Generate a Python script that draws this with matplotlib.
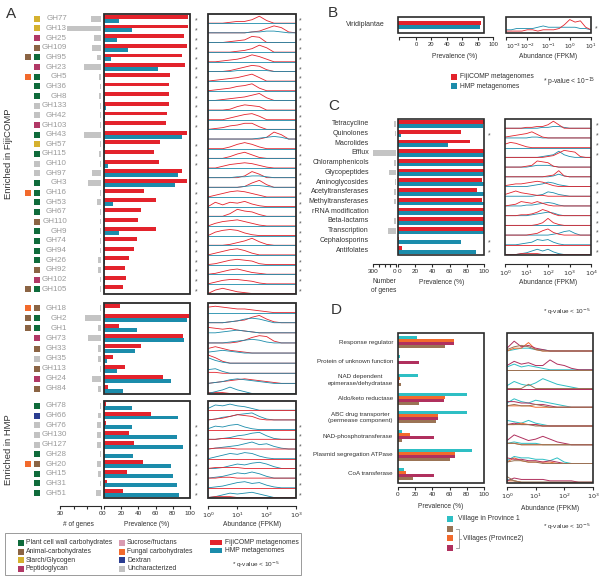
import numpy as np
import matplotlib
matplotlib.use('Agg')
import matplotlib.pyplot as plt
from matplotlib.patches import Rectangle
from matplotlib.ticker import NullLocator
from matplotlib.transforms import blended_transform_factory

plt.rcParams['font.family'] = ['Liberation Sans', 'DejaVu Sans']
plt.rcParams['axes.facecolor'] = 'none'

W, H = 600, 576
RED = '#e3232c'
BLUE = '#1b8cab'
FRAME = '#2b2b2b'
TXT = '#333333'
LABEL_GRAY = '#9a9a9a'
GENE_GRAY = '#c4c4c4'

CAT_COLORS = {
    'plant': '#0f6b3b', 'animal': '#8b6444', 'starch': '#d5b12f',
    'pepti': '#b13866', 'sucrose': '#d99bb1', 'fungal': '#f26a2c',
    'dextran': '#2a3d91', 'unchar': '#c2c2c2',
}
CAT_LABELS = [
    ('plant', 'Plant cell wall carbohydrates'), ('animal', 'Animal-carbohydrates'),
    ('starch', 'Starch/Glycogen'), ('pepti', 'Peptidoglycan'),
    ('sucrose', 'Sucrose/fructans'), ('fungal', 'Fungal carbohydrates'),
    ('dextran', 'Dextran'), ('unchar', 'Uncharacterized'),
]

# ---------------- panel A data ----------------
A1_NAMES = ['GH77', 'GH13', 'GH25', 'GH109', 'GH95', 'GH23', 'GH5', 'GH36', 'GH8',
            'GH133', 'GH42', 'GH103', 'GH43', 'GH57', 'GH115', 'GH10', 'GH97', 'GH3',
            'GH16', 'GH53', 'GH67', 'GH110', 'GH9', 'GH74', 'GH94', 'GH26', 'GH92',
            'GH102', 'GH105']
A1_CATS = [('starch',), ('starch',), ('pepti',), ('animal',), ('animal', 'plant'),
           ('pepti',), ('fungal', 'plant'), ('plant',), ('plant',), ('unchar',),
           ('unchar',), ('pepti',), ('plant',), ('starch',), ('plant',), ('unchar',),
           ('unchar',), ('plant',), ('fungal', 'plant'), ('plant',), ('plant',),
           ('animal',), ('plant',), ('plant',), ('plant',), ('plant',), ('animal',),
           ('pepti',), ('animal', 'plant')]
A1_GENES = [7, 25, 5, 6.5, 3, 12.5, 1.5, 1, 1.5, 1, 1, 1, 12.5, 1, 1.5, 1, 6.5, 9.5,
            1, 3, 1, 1, 1, 1, 1, 2, 2, 1, 1]
A1_FIJI = [98, 98, 93, 96, 91, 94, 77, 75, 75, 76, 73, 72, 97, 65, 58, 64, 91, 96,
           47, 60, 43, 39, 60, 38, 35, 29, 24, 26, 22]
A1_HMP = [17, 33, 15, 28, 8, 63, 1, 0.5, 1, 2, 1, 0.5, 91, 1, 0.5, 5, 86, 83,
          0, 11, 0, 0, 17, 0, 0, 1, 0.5, 1, 0]
A1_STAR_PREV = [0, 1, 2, 3, 4, 5, 6, 7, 8, 9, 10, 11, 13, 14, 15, 17, 18, 19, 20,
                21, 22, 23, 24, 25, 26, 27, 28]
A1_STAR_ABUND = list(range(29))

A2_NAMES = ['GH18', 'GH2', 'GH1', 'GH73', 'GH33', 'GH35', 'GH113', 'GH24', 'GH84']
A2_CATS = [('fungal', 'animal'), ('animal', 'plant'), ('animal', 'plant'), ('pepti',),
           ('animal',), ('unchar',), ('animal',), ('pepti',), ('animal',)]
A2_GENES = [1, 11.5, 2, 9.5, 2, 2, 1, 6.5, 2]
A2_FIJI = [19, 99, 17, 92, 43, 11, 24, 69, 5]
A2_HMP = [1, 97, 38, 93, 36, 4, 15, 78, 22]

A3_NAMES = ['GH78', 'GH66', 'GH76', 'GH130', 'GH127', 'GH28', 'GH20', 'GH15', 'GH31', 'GH51']
A3_CATS = [('plant',), ('dextran',), ('unchar',), ('unchar',), ('unchar',), ('plant',),
           ('fungal', 'animal'), ('plant',), ('plant',), ('plant',)]
A3_GENES = [1, 2, 3, 3, 3, 1, 3, 2, 1, 4]
A3_FIJI = [2, 55, 2, 29, 35, 0, 45, 27, 4, 22]
A3_HMP = [33, 86, 32, 85, 92, 34, 78, 80, 85, 87]
A3_STAR_PREV = [2, 3, 4, 5, 6, 7, 8, 9]
A3_STAR_ABUND = [2, 3, 4, 5, 6, 7, 8, 9]

# abundance density heights (0-9) read on a log10 grid 0..3, step 0.25
GRID_A = [0, 0.25, 0.5, 0.75, 1, 1.25, 1.5, 1.75, 2, 2.25, 2.5, 2.75, 3]
A1_RIDGE_FIJI = [
    [0, 0, 0, 1, 2, 2, 4, 8, 3, 0], [0, 0, 0, 0, 0, 0, 1, 2, 5, 8, 6, 1],
    [0, 0, 0, 1, 2, 3, 7, 6, 0], [0, 0, 0, 0, 1, 2, 4, 8, 5, 0],
    [0, 0, 1, 2, 3, 5, 8, 6, 3, 0], [0, 0, 0, 1, 3, 5, 7, 6, 2, 0],
    [0, 1, 2, 3, 4, 6, 8, 4, 0], [0, 1, 2, 3, 5, 6, 8, 3, 0],
    [0, 0, 1, 2, 3, 4, 6, 8, 3, 0], [0, 0, 0, 1, 4, 6, 5, 4, 0],
    [0, 0, 0, 2, 4, 6, 7, 4, 0], [0, 1, 2, 4, 5, 7, 7, 3, 0],
    [0, 0, 0, 0, 0, 0, 0, 0, 2, 8, 5, 0], [0, 0, 0, 2, 5, 7, 5, 2, 0],
    [0, 0, 0, 2, 5, 7, 4, 1, 0], [0, 0, 2, 4, 5, 6, 5, 3, 1, 0],
    [0, 0, 0, 0, 0, 2, 7, 4, 0], [0, 0, 0, 0, 0, 1, 5, 8, 3, 0],
    [0, 2, 4, 6, 7, 6, 4, 2, 0], [0, 5, 2, 5, 4, 6, 3, 1, 0],
    [0, 0, 0, 3, 8, 6, 5, 2, 0], [0, 3, 5, 6, 7, 5, 3, 1, 0],
    [0, 4, 6, 7, 6, 3, 1, 0], [0, 0, 0, 1, 3, 5, 8, 4, 1, 0],
    [0, 2, 4, 6, 7, 5, 2, 0], [0, 1, 3, 5, 6, 5, 4, 1, 0],
    [0, 1, 3, 5, 6, 4, 2, 1, 0], [0, 2, 4, 5, 5, 4, 3, 1, 0],
    [0, 4, 6, 4, 2, 1, 0],
]
A1_RIDGE_HMP = [[], [0, 0, 0, 0, 0, 0, 1, 1, 2, 2, 1], [], [], [], [0, 0, 0, 0, 1, 1, 1, 1, 1],
                [], [], [], [], [], [], [0, 0, 0, 0, 0, 0, 0, 1, 2, 3, 2, 0], [], [], [],
                [0, 0, 0, 0, 1, 1, 2, 2, 1], [0, 0, 0, 0, 0, 1, 2, 2, 1], [], [], [], [],
                [], [], [], [], [], [], []]
A2_RIDGE_FIJI = [[6, 7, 6, 5, 4, 4, 3, 2, 1, 0], [0, 0, 0, 1, 2, 3, 6, 8, 4, 1, 0],
                 [6, 5, 4, 5, 3, 2, 1, 0], [0, 0, 0, 0, 1, 3, 6, 8, 7, 2, 0],
                 [5, 7, 5, 3, 2, 1, 0], [9, 6, 2, 0], [1, 1, 0],
                 [0, 1, 2, 3, 4, 5, 4, 3, 2, 1, 0], [1, 1, 1, 0]]
A2_RIDGE_HMP = [[], [0, 0, 0, 1, 2, 4, 5, 4, 2, 0], [0, 0, 1, 2, 3, 2, 1, 0],
                [0, 0, 0, 1, 2, 3, 4, 3, 1, 0], [1, 2, 3, 2, 1, 0], [6, 3, 1, 0],
                [4, 5, 2, 0], [0, 1, 2, 4, 5, 4, 3, 2, 1, 0], [0, 2, 4, 7, 4, 2, 0]]
A3_RIDGE_HMP = [[2, 6, 5, 7, 5, 4, 2, 0], [0, 1, 3, 4, 6, 7, 8, 4, 1, 0],
                [1, 4, 3, 5, 6, 3, 1, 0], [0, 0, 1, 2, 4, 5, 7, 8, 4, 1, 0],
                [0, 1, 2, 3, 4, 6, 8, 5, 6, 3, 1, 0], [0, 2, 4, 6, 5, 7, 6, 3, 1, 0],
                [0, 0, 1, 3, 5, 4, 6, 7, 5, 2, 0], [0, 1, 2, 4, 6, 5, 7, 5, 2, 0],
                [0, 1, 2, 4, 6, 7, 5, 6, 3, 1, 0], [0, 1, 3, 5, 4, 5, 6, 4, 2, 0]]
A3_RIDGE_FIJI = [[], [0, 1, 2, 4, 6, 5, 4, 1, 0], [], [0, 0, 1, 1, 1, 0], [0, 1, 1, 1, 0],
                 [], [0, 1, 1, 1, 1, 0], [0, 0, 1, 1, 0], [], [0, 1, 1, 1, 0]]

# ---------------- panel B data ----------------
B_NAMES = ['Viridiplantae']
B_FIJI = [97]
B_HMP = [95]
GRID_B = [-3, -2.75, -2.5, -2.25, -2, -1.75, -1.5, -1.25, -1, -0.75, -0.5, -0.25,
          0, 0.25, 0.5, 0.75, 1]
B_RIDGE_FIJI = [[0, 0, 0, 0, 1, 1, 0, 1, 1, 1, 2, 5, 9, 7, 8, 3, 1]]
B_RIDGE_HMP = [[1, 1, 2, 2, 2, 2, 3, 4, 3, 3, 3, 3, 3, 3, 2, 2, 1]]

# ---------------- panel C data ----------------
C_NAMES = ['Tetracycline', 'Quinolones', 'Macrolides', 'Efflux', 'Chloramphenicols',
           'Glycopeptides', 'Aminoglycosides', 'Acetyltransferases',
           'Methyltransferases', 'rRNA modification', 'Beta-lactams', 'Transcription',
           'Cephalosporins', 'Antifolates']
C_GENES = [20, 10, 0, 300, 20, 90, 10, 20, 20, 5, 20, 110, 0, 0]
C_FIJI = [100, 73, 84, 100, 100, 100, 98, 92, 98, 100, 100, 100, 1, 5]
C_HMP = [99, 4, 58, 100, 100, 100, 100, 100, 100, 99, 100, 100, 73, 91]
C_STAR_PREV = [1, 12, 13]
C_STAR_ABUND = [0, 1, 2, 3, 6, 7, 8, 9, 10, 11, 12, 13]
GRID_C = [0, 0.25, 0.5, 0.75, 1, 1.25, 1.5, 1.75, 2, 2.25, 2.5, 2.75, 3, 3.25, 3.5,
          3.75, 4]
C_RIDGE_FIJI = [
    [0, 0, 0, 0, 1, 1, 2, 2, 4, 8, 4, 0], [1, 2, 3, 4, 5, 7, 4, 1, 0],
    [4, 6, 5, 3, 1, 0], [0, 0, 0, 0, 0, 0, 0, 0, 1, 2, 5, 8, 7, 6, 1, 0],
    [0, 0, 0, 0, 1, 2, 7, 6, 5, 1, 0], [0, 0, 0, 0, 0, 0, 0, 0, 1, 2, 7, 1, 0],
    [1, 2, 3, 3, 4, 5, 6, 5, 3, 1, 0], [2, 4, 6, 4, 3, 2, 1, 1, 0],
    [0, 1, 2, 5, 4, 3, 5, 3, 1, 0], [0, 0, 0, 1, 1, 2, 4, 7, 5, 2, 0],
    [0, 0, 0, 0, 0, 0, 1, 3, 8, 3, 1, 0], [0, 0, 0, 0, 0, 1, 2, 5, 7, 3, 1, 0],
    [], [0, 0, 0, 1, 1, 1, 1, 0],
]
C_RIDGE_HMP = [
    [0, 0, 0, 0, 0, 0, 0, 1, 1, 2, 2, 1, 0], [0, 0, 0, 0, 0, 1, 1, 0],
    [], [0, 0, 0, 0, 0, 0, 0, 1, 2, 3, 7, 3, 1, 0],
    [0, 0, 0, 0, 0, 1, 2, 2, 2, 1, 0], [0, 0, 0, 0, 0, 0, 0, 0, 0, 1, 3, 1, 0],
    [0, 0, 0, 0, 0, 1, 2, 3, 5, 4, 2, 1, 0], [0, 0, 0, 0, 0, 0, 1, 2, 5, 4, 2, 1, 0],
    [0, 0, 0, 0, 1, 1, 2, 3, 4, 3, 1, 0], [0, 0, 0, 0, 0, 1, 2, 3, 4, 3, 1, 0],
    [], [0, 0, 0, 0, 0, 0, 0, 0, 0, 1, 2, 4, 5, 2, 0],
    [0, 0, 0, 1, 2, 3, 6, 5, 6, 3, 1, 0], [0, 0, 0, 1, 2, 4, 6, 4, 6, 3, 1, 0],
]

# ---------------- panel D data ----------------
D_NAMES = ['Response regulator', 'Protein of unknown function',
           'NAD dependent\nepimerase/dehydratase', 'Aldo/keto reductase',
           'ABC drug transporter\n(permease component)', 'NAD-phosphotransferase',
           'Plasmid segregation ATPase', 'CoA transferase']
D_COLORS = ['#2ebfc4', '#f26a2c', '#b0305e', '#9b7455']
D_PREV = [
    [22, 2, 23, 80, 80, 5, 86, 7],    # cyan, Province 1
    [65, 0, 2, 55, 47, 14, 66, 9],    # orange
    [65, 24, 1, 53, 47, 42, 66, 42],  # magenta
    [55, 0, 3, 24, 44, 5, 61, 17],    # brown
]
D_RIDGE = [
    [[0, 1, 2, 2, 1, 1, 0], [2, 4, 2, 3, 2, 1, 0], [2, 5, 3, 2, 4, 7, 5, 3, 2, 1, 0],
     [3, 6, 4, 3, 5, 4, 3, 2, 1, 0], [4, 3, 2, 4, 2, 1, 0], [1, 2, 1, 1, 1, 0],
     [2, 5, 4, 4, 3, 3, 2, 4, 1, 0], [2, 1, 0]],
    [[0, 2, 2, 6, 1, 0], [], [], [1, 1, 1, 1, 0], [1, 1, 2, 1, 1, 0], [1, 1, 0],
     [1, 4, 2, 1, 1, 1, 1, 0], [1, 1, 0]],
    [[2, 7, 3, 4, 2, 1, 0], [3, 6, 4, 5, 3, 3, 7, 4, 3, 1, 0], [],
     [4, 4, 3, 3, 2, 2, 1, 0], [1, 2, 1, 1, 1, 0], [3, 7, 5, 3, 4, 6, 4, 2, 1, 0],
     [4, 3, 3, 2, 2, 1, 2, 1, 0], [1, 3, 2, 2, 2, 2, 1, 1, 1, 1, 0]],
    [[1, 3, 4, 3, 1, 0], [], [0, 0, 0, 3, 0], [1, 2, 1, 1, 2, 1, 0], [1, 1, 1, 1, 0],
     [1, 1, 0], [1, 2, 2, 1, 1, 0], [4, 1, 0]],
]

fig = plt.figure(figsize=(6, 5.76), dpi=100)


def px_axes(x0, y0, x1, y1):
    return fig.add_axes([x0 / W, 1 - y1 / H, (x1 - x0) / W, (y1 - y0) / H])


def pad(v, m):
    return list(v) + [0] * (m - len(v))


def frame(ax, lw=1.2):
    for s in ax.spines.values():
        s.set_visible(False)
    ax.add_patch(Rectangle((0, 0), 1, 1, transform=ax.transAxes, fill=False, lw=lw,
                           ec=FRAME, clip_on=False, zorder=10))
    ax.set_yticks([])
    ax.tick_params(axis='x', which='both', bottom=False, labelbottom=False)


def bare(ax):
    for s in ax.spines.values():
        s.set_visible(False)
    ax.set_yticks([])
    ax.tick_params(axis='x', which='both', bottom=False, labelbottom=False)


def bottom_ticks(ax, ticks, labels, offset_px, size=4.6):
    sp = ax.spines['bottom']
    sp.set_visible(True)
    sp.set_position(('outward', offset_px * 0.72))
    sp.set_linewidth(0.8)
    sp.set_color(FRAME)
    ax.xaxis.set_minor_locator(NullLocator())
    ax.set_xticks(ticks)
    ax.set_xticklabels(labels)
    ax.tick_params(axis='x', bottom=True, labelbottom=True, length=2.5, width=0.8,
                   pad=1.0, labelsize=size, colors=FRAME)


def stars(ax, rows, xa):
    tr = blended_transform_factory(ax.transAxes, ax.transData)
    for k in rows:
        ax.text(xa, k + 0.25, '*', transform=tr, ha='center', va='center',
                fontsize=5, color='#555555')


def prevalence(ax, fiji, hmp, h=0.4):
    n = len(fiji)
    y = np.arange(n)
    ax.barh(y - h / 2, fiji, height=h, color=RED, lw=0)
    ax.barh(y + h / 2, hmp, height=h, color=BLUE, lw=0)
    ax.set_xlim(0, 100)
    ax.set_ylim(n - 0.5, -0.5)


def genes(ax, vals, xmax, h=0.6):
    n = len(vals)
    ax.barh(np.arange(n), vals, height=h, color=GENE_GRAY, lw=0)
    ax.set_xlim(xmax, 0)
    ax.set_ylim(n - 0.5, -0.5)
    bare(ax)


def ridges(ax, grid, layers, n, scale=0.09, base=0.42, lw=0.6):
    x = 10.0 ** np.array(grid)
    for data, color in layers:
        for k in range(n):
            hgt = np.array(pad(data[k], len(grid)), dtype=float)
            ax.plot(x, k + base - scale * hgt, color=color, lw=lw,
                    solid_joinstyle='round')
    ax.set_xscale('log')
    ax.set_xlim(x[0], x[-1])
    ax.set_ylim(n - 0.5, -0.5)


def split_zero_labels(gene_ax, prev_ax):
    # "0 0" where the gene-count axis meets the prevalence axis
    gene_ax.get_xticklabels()[-1].set_horizontalalignment('right')
    prev_ax.get_xticklabels()[0].set_horizontalalignment('left')


# overlay for free text in pixel coordinates
ov = fig.add_axes([0, 0, 1, 1])
ov.set_xlim(0, W)
ov.set_ylim(H, 0)
ov.axis('off')

# ---------------- panel A ----------------
A_GROUPS = [
    (14, 294, A1_NAMES, A1_CATS, A1_GENES, A1_FIJI, A1_HMP, A1_STAR_PREV, A1_STAR_ABUND,
     [(A1_RIDGE_FIJI, RED), (A1_RIDGE_HMP, BLUE)]),
    (303, 394, A2_NAMES, A2_CATS, A2_GENES, A2_FIJI, A2_HMP, [], [],
     [(A2_RIDGE_FIJI, RED), (A2_RIDGE_HMP, BLUE)]),
    (401, 498, A3_NAMES, A3_CATS, A3_GENES, A3_FIJI, A3_HMP, A3_STAR_PREV, A3_STAR_ABUND,
     [(A3_RIDGE_HMP, BLUE), (A3_RIDGE_FIJI, RED)]),
]
for gi, (y0, y1, names, cats, gn, fj, hm, sp, sa, layers) in enumerate(A_GROUPS):
    n = len(names)
    last = gi == len(A_GROUPS) - 1

    lab = px_axes(0, y0, 104, y1)
    lab.set_xlim(0, 104)
    lab.set_ylim(n - 0.5, -0.5)
    lab.axis('off')
    for k, (nm, cc) in enumerate(zip(names, cats)):
        lab.text(67, k, nm, ha='right', va='center', fontsize=5.8, color=LABEL_GRAY)
        xs = [37] if len(cc) == 1 else [28, 37]
        for xx, c in zip(xs, cc):
            lab.scatter([xx], [k], marker='s', s=17, color=CAT_COLORS[c], lw=0)

    ga = px_axes(60, y0, 101, y1)
    genes(ga, gn, 30)
    if last:
        bottom_ticks(ga, [30, 20, 10, 0], ['30', '', '', '0'], 8)

    pa = px_axes(104, y0, 190, y1)
    prevalence(pa, fj, hm)
    frame(pa, 1.3)
    stars(pa, sp, 1.07)
    if last:
        bottom_ticks(pa, [0, 20, 40, 60, 80, 100], ['0', '20', '40', '60', '80', '100'], 8)

    aa = px_axes(208, y0, 296, y1)
    ridges(aa, GRID_A, layers, n, scale=0.09, base=0.45)
    frame(aa, 1.3)
    stars(aa, sa, 1.05)
    if last:
        bottom_ticks(aa, [1, 10, 100, 1000],
                     ['$10^0$', '$10^1$', '$10^2$', '$10^3$'], 8)

ov.text(6, 14, 'A', fontsize=11, color=TXT, va='center')
ov.text(9, 154, 'Enriched in FijiCOMP', rotation=90, fontsize=6.8, color=TXT,
        ha='center', va='center')
ov.text(9, 450, 'Enriched in HMP', rotation=90, fontsize=6.8, color=TXT,
        ha='center', va='center')
ov.text(78, 525, '# of genes', fontsize=4.8, color=TXT, ha='center', va='center')
ov.text(147, 525, 'Prevalence (%)', fontsize=4.8, color=TXT, ha='center', va='center')
ov.text(252, 525, 'Abundance (FPKM)', fontsize=4.8, color=TXT, ha='center', va='center')

# legend A
ov.add_patch(Rectangle((5, 533), 296, 42, fill=False, lw=0.6, ec='#8a8a8a'))
for i, (key, text) in enumerate(CAT_LABELS):
    col, row = divmod(i, 4)
    x = 21 + col * 101
    y = 543 + row * 8.5
    ov.add_patch(Rectangle((x - 3, y - 3), 6, 6, color=CAT_COLORS[key], lw=0))
    ov.text(x + 5, y, text, fontsize=4.9, color=TXT, va='center')
for i, (c, text) in enumerate([(RED, 'FijiCOMP metagenomes'), (BLUE, 'HMP metagenomes')]):
    y = 542 + i * 8.5
    ov.add_patch(Rectangle((210, y - 2.5), 12, 5, color=c, lw=0))
    ov.text(225, y, text, fontsize=4.9, color=TXT, va='center')
ov.text(232, 565, '* q-value < 10$^{-5}$', fontsize=4.6, color=TXT, va='center')

# ---------------- panel B ----------------
ov.text(328, 13, 'B', fontsize=11, color=TXT, va='center')
lb = px_axes(300, 17, 398, 33)
lb.set_xlim(300, 398)
lb.set_ylim(0.5, -0.5)
lb.axis('off')
lb.text(385, 0, B_NAMES[0], ha='right', va='center', fontsize=5, color=TXT)

pb = px_axes(398, 17, 484, 33)
prevalence(pb, B_FIJI, B_HMP, h=0.25)
frame(pb, 1.2)

tb = px_axes(399, 17, 493, 33)
bare(tb)
tb.set_xlim(-22, 100)
bottom_ticks(tb, [-22, 0, 20, 40, 60, 80, 100], ['', '0', '20', '40', '60', '80', '100'],
             4, size=4.2)
ov.text(455, 56, 'Prevalence (%)', fontsize=4.8, color=TXT, ha='center', va='center')

ab = px_axes(506, 17, 591, 33)
ridges(ab, GRID_B, [(B_RIDGE_HMP, BLUE), (B_RIDGE_FIJI, RED)], 1, scale=0.08, base=0.38)
frame(ab, 1.2)
bottom_ticks(ab, [1e-3, 1e-2, 1e-1, 1, 10],
             ['$10^{-3}$', '$10^{-2}$', '$10^{-1}$', '$10^0$', '$10^1$'], 4, size=4.2)
ab.get_xticklabels()[0].set_horizontalalignment('left')
stars(ab, [0], 1.06)
ov.text(548, 57, 'Abundance (FPKM)', fontsize=4.8, color=TXT, ha='center', va='center')

for i, (c, text) in enumerate([(RED, 'FijiCOMP metagenomes'), (BLUE, 'HMP metagenomes')]):
    y = 77 + i * 9
    ov.add_patch(Rectangle((451, y - 3), 6, 6, color=c, lw=0))
    ov.text(460, y, text, fontsize=4.9, color=TXT, va='center')
ov.text(543, 82, '* p-value < 10$^{-15}$', fontsize=4.8, color=TXT, va='center')

# ---------------- panel C ----------------
ov.text(328, 106, 'C', fontsize=11, color=TXT, va='center')
nc = len(C_NAMES)
lc = px_axes(300, 119, 398, 255)
lc.set_xlim(300, 398)
lc.set_ylim(nc - 0.5, -0.5)
lc.axis('off')
for k, nm in enumerate(C_NAMES):
    lc.text(369, k, nm, ha='right', va='center', fontsize=5, color=TXT)

gc = px_axes(373, 119, 396, 255)
genes(gc, C_GENES, 300)
bottom_ticks(gc, [300, 225, 150, 75, 0], ['300', '', '', '', '0'], 9)

pc = px_axes(398, 119, 484, 255)
prevalence(pc, C_FIJI, C_HMP, h=0.38)
frame(pc, 1.2)
stars(pc, C_STAR_PREV, 1.06)
bottom_ticks(pc, [0, 20, 40, 60, 80, 100], ['0', '20', '40', '60', '80', '100'], 9)
split_zero_labels(gc, pc)

ac = px_axes(505, 119, 591, 255)
ridges(ac, GRID_C, [(C_RIDGE_HMP, BLUE), (C_RIDGE_FIJI, RED)], nc, scale=0.09, base=0.45)
frame(ac, 1.2)
stars(ac, C_STAR_ABUND, 1.07)
bottom_ticks(ac, [1, 10, 100, 1000, 10000],
             ['$10^0$', '$10^1$', '$10^2$', '$10^3$', '$10^4$'], 9)
ov.text(384, 286, 'Number\nof genes', fontsize=4.8, color=TXT, ha='center',
        va='center', linespacing=1.5)
ov.text(442, 282, 'Prevalence (%)', fontsize=4.8, color=TXT, ha='center', va='center')
ov.text(548, 283, 'Abundance (FPKM)', fontsize=4.8, color=TXT, ha='center', va='center')

# ---------------- panel D ----------------
ov.text(331, 310, 'D', fontsize=11, color=TXT, va='center')
ov.text(543, 312, '* q-value < 10$^{-5}$', fontsize=4.6, color=TXT, va='center')
nd = len(D_NAMES)
ld = px_axes(300, 333, 398, 483)
ld.set_xlim(300, 398)
ld.set_ylim(nd - 0.5, -0.5)
ld.axis('off')
for k, nm in enumerate(D_NAMES):
    ld.text(393, k, nm, ha='right', va='center', fontsize=4.5, color=TXT,
            multialignment='center', linespacing=1.4)

pd_ = px_axes(398, 333, 484, 483)
offs = [-0.24, -0.08, 0.08, 0.24]
for vals, c, o in zip(D_PREV, D_COLORS, offs):
    pd_.barh(np.arange(nd) + o, vals, height=0.16, color=c, lw=0)
pd_.set_xlim(0, 100)
pd_.set_ylim(nd - 0.5, -0.5)
frame(pd_, 1.2)
bottom_ticks(pd_, [0, 20, 40, 60, 80, 100], ['0', '20', '40', '60', '80', '100'], 4)
ov.text(441, 507, 'Prevalence (%)', fontsize=4.8, color=TXT, ha='center', va='center')

ad = px_axes(507, 333, 593, 483)
ridges(ad, GRID_A, list(zip(D_RIDGE, D_COLORS)), nd, scale=0.075, base=0.46, lw=0.7)
frame(ad, 1.2)
bottom_ticks(ad, [1, 10, 100, 1000], ['$10^0$', '$10^1$', '$10^2$', '$10^3$'], 4)
ov.text(550, 508, 'Abundance (FPKM)', fontsize=4.8, color=TXT, ha='center', va='center')

leg_order = [0, 3, 1, 2]
for i, gidx in enumerate(leg_order):
    y = 519 + i * 9.6
    ov.add_patch(Rectangle((447, y - 3), 6, 6, color=D_COLORS[gidx], lw=0))
ov.text(458, 519, 'Village in Province 1', fontsize=4.9, color=TXT, va='center')
ov.plot([456, 459, 459, 456], [529, 529, 548, 548], color='#999999', lw=0.6)
ov.plot([459, 461], [538.5, 538.5], color='#999999', lw=0.6)
ov.text(463, 539, 'Villages (Province2)', fontsize=4.9, color=TXT, va='center')
ov.text(543, 527, '* q-value < 10$^{-5}$', fontsize=4.6, color=TXT, va='center')

fig.savefig('out.png', dpi=100)
